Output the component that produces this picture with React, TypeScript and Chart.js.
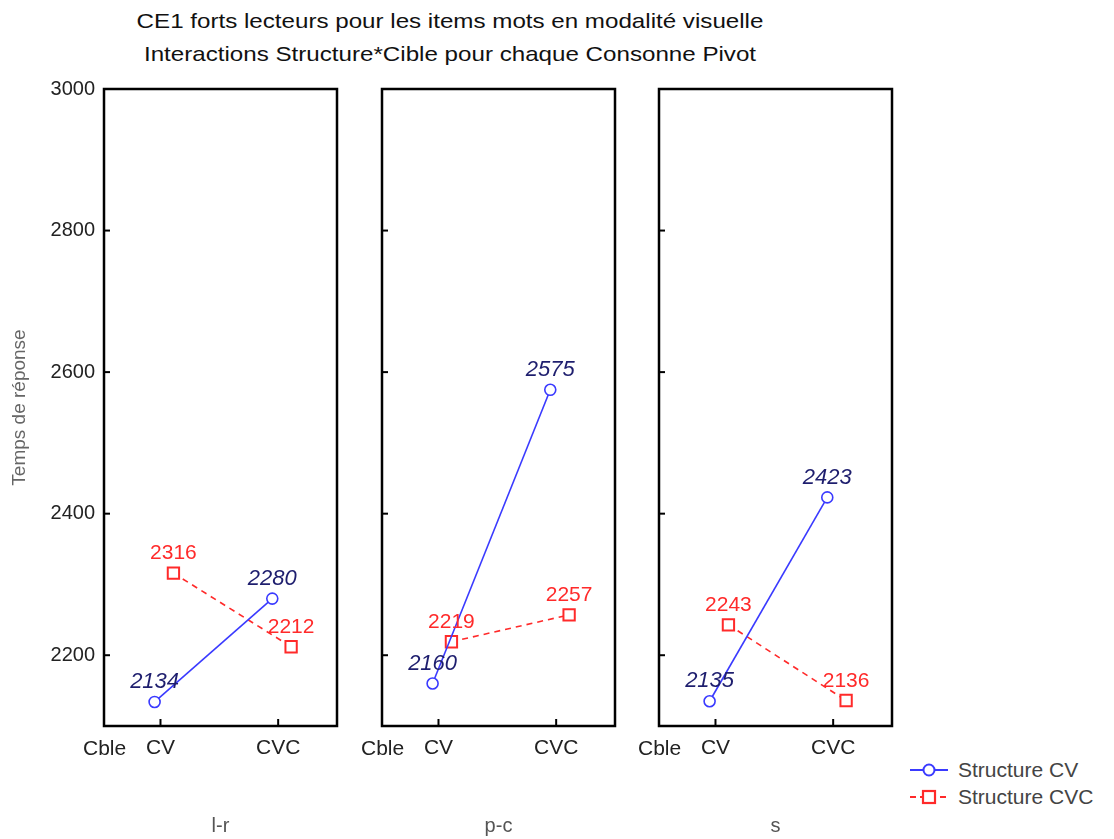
import React, { useEffect, useRef } from 'react';
import { Chart, registerables } from 'chart.js';

Chart.register(...registerables);

const TITLE_LINES = [
  'CE1 forts lecteurs pour les items mots en modalité visuelle',
  'Interactions Structure*Cible pour chaque Consonne Pivot',
];
const CATEGORIES = ['CV', 'CVC'];
const PANELS = ['l-r', 'p-c', 's'];
const SERIES_NAMES = ['Structure CV', 'Structure CVC'];
const STRUCTURE_CV_LR = [2134, 2280];
const STRUCTURE_CVC_LR = [2316, 2212];
const STRUCTURE_CV_PC = [2160, 2575];
const STRUCTURE_CVC_PC = [2219, 2257];
const STRUCTURE_CV_S = [2135, 2423];
const STRUCTURE_CVC_S = [2243, 2136];
const Y_TICKS = [2200, 2400, 2600, 2800, 3000];
const Y_MIN = 2100;
const Y_MAX = 3000;
const Y_TITLE = 'Temps de réponse';
const X_PREFIX = 'Cble';

const FONT = '"Liberation Sans", Arial, sans-serif';
const BLUE = '#3a3aff';
const RED = '#ff2a2a';
const BLUE_LABEL = '#1e1e6e';

const PANEL_LEFTS = [104, 382, 659];
const PANEL_WIDTH = 233;
const PANEL_TOP = 89;
const PANEL_BOTTOM = 726;
const CANVAS_H = 839;
const SIDE_PAD = 10;

const framePlugin = {
  id: 'frameAndLabels',
  afterDatasetsDraw(chart: any) {
    const { ctx, chartArea } = chart;
    const xs = chart.scales.x;
    const ys = chart.scales.y;
    ctx.save();
    ctx.strokeStyle = '#000';
    ctx.lineWidth = 2.5;
    ctx.strokeRect(chartArea.left, chartArea.top, chartArea.right - chartArea.left, chartArea.bottom - chartArea.top);
    ctx.lineWidth = 2;
    Y_TICKS.forEach((v) => {
      if (v >= Y_MAX) return;
      const y = ys.getPixelForValue(v);
      ctx.beginPath();
      ctx.moveTo(chartArea.left, y);
      ctx.lineTo(chartArea.left + 6, y);
      ctx.stroke();
    });
    CATEGORIES.forEach((_, i) => {
      const x = xs.getPixelForValue(i + 1);
      ctx.beginPath();
      ctx.moveTo(x, chartArea.bottom);
      ctx.lineTo(x, chartArea.bottom - 7);
      ctx.stroke();
    });
    // value labels
    ctx.textAlign = 'center';
    ctx.textBaseline = 'bottom';
    chart.data.datasets.forEach((ds: any, di: number) => {
      const meta = chart.getDatasetMeta(di);
      ctx.font = di === 0 ? 'italic 22px ' + FONT : '21px ' + FONT;
      ctx.fillStyle = di === 0 ? BLUE_LABEL : RED;
      meta.data.forEach((pt: any, i: number) => {
        ctx.fillText(String(ds.data[i].y), pt.x, pt.y - 9);
      });
    });
    ctx.restore();
  },
};

function Panel({ index, cv, cvc }: { index: number; cv: number[]; cvc: number[] }) {
  const ref = useRef<HTMLCanvasElement>(null);
  const showY = index === 0;
  const canvasLeft = showY ? 0 : PANEL_LEFTS[index] - SIDE_PAD;
  const canvasW = showY ? PANEL_LEFTS[0] + PANEL_WIDTH + SIDE_PAD : PANEL_WIDTH + 2 * SIDE_PAD;

  useEffect(() => {
    if (!ref.current) return;
    const chart = new Chart(ref.current, {
      type: 'scatter',
      data: {
        datasets: [
          {
            label: SERIES_NAMES[0],
            data: cv.map((v, i) => ({ x: i + 1 - 0.05, y: v })),
            showLine: true,
            borderColor: BLUE,
            borderWidth: 1.6,
            pointStyle: 'circle',
            pointRadius: 5.5,
            pointBorderWidth: 1.6,
            pointBorderColor: BLUE,
            pointBackgroundColor: 'rgba(255,255,255,1)',
          },
          {
            label: SERIES_NAMES[1],
            data: cvc.map((v, i) => ({ x: i + 1 + 0.11, y: v })),
            showLine: true,
            borderColor: RED,
            borderWidth: 1.6,
            borderDash: [6, 5],
            pointStyle: 'rect',
            pointRadius: 8,
            pointBorderWidth: 2,
            pointBorderColor: RED,
            pointBackgroundColor: 'rgba(255,255,255,1)',
          },
        ],
      },
      options: {
        responsive: false,
        animation: false,
        events: [],
        layout: {
          padding: {
            top: PANEL_TOP,
            bottom: 0,
            left: showY ? 0 : SIDE_PAD,
            right: SIDE_PAD,
          },
        },
        plugins: {
          legend: { display: false },
          tooltip: { enabled: false },
          title: { display: false },
        },
        scales: {
          x: {
            type: 'linear',
            min: 0.52,
            max: 2.5,
            grid: { display: false, drawTicks: false },
            border: { display: false },
            afterBuildTicks: (scale: any) => {
              scale.ticks = CATEGORIES.map((_, i) => ({ value: i + 1 }));
            },
            afterFit: (scale: any) => {
              scale.height = CANVAS_H - PANEL_BOTTOM;
            },
            ticks: {
              autoSkip: false,
              maxRotation: 0,
              padding: 10,
              color: '#222',
              font: { family: FONT, size: 21 },
              callback: (v: any) => CATEGORIES[Math.round(v) - 1] ?? '',
            },
            title: {
              display: true,
              text: PANELS[index],
              color: '#555',
              font: { family: FONT, size: 20 },
              padding: { top: 0, bottom: 1 },
            },
          },
          y: {
            type: 'linear',
            display: showY,
            min: Y_MIN,
            max: Y_MAX,
            grid: { display: false, drawTicks: false },
            border: { display: false },
            afterBuildTicks: (scale: any) => {
              scale.ticks = Y_TICKS.map((v) => ({ value: v }));
            },
            afterFit: (scale: any) => {
              if (showY) scale.width = PANEL_LEFTS[0];
            },
            ticks: {
              padding: 9,
              color: '#222',
              font: { family: FONT, size: 20 },
              callback: (v: any) => String(v),
            },
            title: {
              display: showY,
              text: Y_TITLE,
              color: '#666',
              font: { family: FONT, size: 19 },
              padding: { top: 8, bottom: 0 },
            },
          },
        },
      },
      plugins: [framePlugin],
    } as any);
    return () => chart.destroy();
  }, []);

  return (
    <canvas
      ref={ref}
      width={canvasW}
      height={CANVAS_H}
      style={{ position: 'absolute', left: canvasLeft, top: 0, width: canvasW, height: CANVAS_H, display: 'block' }}
    />
  );
}

function LegendSymbol({ kind }: { kind: number }) {
  const color = kind === 0 ? BLUE : RED;
  return (
    <svg width={38} height={16} style={{ display: 'block' }}>
      <line x1={0} y1={8} x2={38} y2={8} stroke={color} strokeWidth={2} strokeDasharray={kind === 0 ? undefined : '6 4'} />
      {kind === 0 ? (
        <circle cx={19} cy={8} r={5.5} fill="#fff" stroke={color} strokeWidth={2} />
      ) : (
        <rect x={13} y={2} width={12} height={12} fill="#fff" stroke={color} strokeWidth={2.2} />
      )}
    </svg>
  );
}

export default function App() {
  const panelData = [
    [STRUCTURE_CV_LR, STRUCTURE_CVC_LR],
    [STRUCTURE_CV_PC, STRUCTURE_CVC_PC],
    [STRUCTURE_CV_S, STRUCTURE_CVC_S],
  ];
  return (
    <div style={{ position: 'absolute', left: 0, top: 0, width: 1114, height: 839, background: '#fff', fontFamily: FONT, overflow: 'hidden' }}>
      {TITLE_LINES.map((t, i) => (
        <div
          key={i}
          style={{ position: 'absolute', left: 0, width: 900, top: 9 + i * 33, textAlign: 'center', fontSize: 21, lineHeight: '24px', color: '#111', transform: 'scaleX(1.15)', transformOrigin: '450px 0' }}
        >
          {t}
        </div>
      ))}
      {panelData.map((d, i) => (
        <Panel key={i} index={i} cv={d[0]} cvc={d[1]} />
      ))}
      {PANEL_LEFTS.map((l, i) => (
        <div key={'c' + i} style={{ position: 'absolute', left: l - 21, top: 736, fontSize: 21, lineHeight: '24px', color: '#222' }}>
          {X_PREFIX}
        </div>
      ))}
      {SERIES_NAMES.map((n, i) => (
        <div key={'l' + i} style={{ position: 'absolute', left: 910, top: 758 + i * 27, display: 'flex', alignItems: 'center', gap: 10 }}>
          <LegendSymbol kind={i} />
          <span style={{ fontSize: 21, lineHeight: '24px', color: '#444' }}>{n}</span>
        </div>
      ))}
    </div>
  );
}
